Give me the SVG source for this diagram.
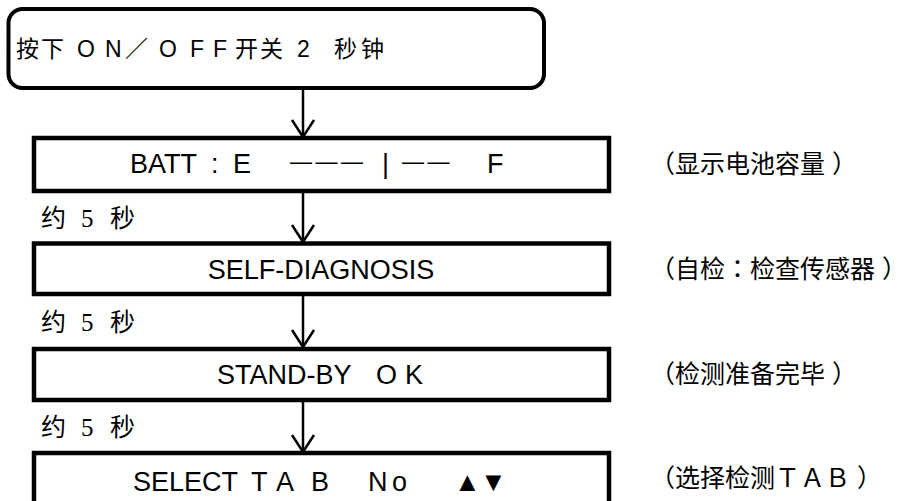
<svg xmlns="http://www.w3.org/2000/svg" width="908" height="501" viewBox="0 0 908 501">
  <style>
    .box { fill: #ffffff; stroke: #000000; stroke-width: 4.5; }
    .start { fill: #ffffff; stroke: #000000; stroke-width: 4; }
    .conn { fill: none; stroke: #000000; stroke-width: 2.5; }
    .lcd { font-family: "Liberation Sans", "Noto Sans CJK SC", sans-serif; font-size: 27px; fill: #000000; }
    .head { font-family: "Liberation Sans", "Noto Sans CJK SC", sans-serif; font-size: 23px; fill: #000000; }
    .note { font-family: "Liberation Serif", "Noto Sans CJK SC", serif; font-size: 25px; fill: #000000; }
    .dash { font-family: "Liberation Sans", sans-serif; font-size: 22px; }
    .jp { font-family: "Noto Sans CJK JP", sans-serif; }
  </style>
  <defs>
    <marker id="chev" markerUnits="userSpaceOnUse" markerWidth="40" markerHeight="40" refX="0" refY="0" orient="auto" overflow="visible" viewBox="-20 -20 40 40">
      <path d="M-17,-11 L0,0 L-17,11" fill="none" stroke="#000000" stroke-width="2.5" stroke-linejoin="miter"/>
    </marker>
  </defs>
  <rect x="0" y="0" width="908" height="501" fill="#ffffff"/>

  <g id="connectors">
    <line class="conn" x1="303" y1="88" x2="303" y2="137" marker-end="url(#chev)"/>
    <line class="conn" x1="303" y1="191" x2="303" y2="242" marker-end="url(#chev)"/>
    <line class="conn" x1="303" y1="294" x2="303" y2="347" marker-end="url(#chev)"/>
    <line class="conn" x1="303" y1="400" x2="303" y2="452" marker-end="url(#chev)"/>
  </g>

  <g id="node-start">
    <rect class="start" x="8.5" y="9" width="535.5" height="79" rx="14" ry="14"/>
    <text class="head" y="57"><tspan x="16 41 64 77 105 125 159 190 213 235 260 282 297 315 334 361">按下 ON／OFF开关 2 秒钟</tspan></text>
  </g>

  <g id="node-batt">
    <rect class="box" x="34" y="138" width="575" height="53"/>
    <text class="lcd" y="173"><tspan x="130">BATT </tspan><tspan x="211">: </tspan><tspan x="233">E </tspan><tspan class="dash" x="290 315.5 341" dy="-4">———</tspan><tspan x="382" dy="4">| </tspan><tspan class="dash" x="402 427.5" dy="-4">—— </tspan><tspan x="487" dy="4">F</tspan></text>
  </g>

  <g id="node-self">
    <rect class="box" x="34" y="243.5" width="575" height="50.5"/>
    <text class="lcd" x="321" y="279" text-anchor="middle">SELF-DIAGNOSIS</text>
  </g>

  <g id="node-standby">
    <rect class="box" x="34" y="349" width="575" height="51"/>
    <text class="lcd" y="384"><tspan x="217">STAND-BY </tspan><tspan x="376 405">OK</tspan></text>
  </g>

  <g id="node-select">
    <rect class="box" x="34" y="453" width="575" height="56"/>
    <text class="lcd" y="491"><tspan x="133">SELECT </tspan><tspan x="251 276 311">TAB </tspan><tspan x="368 392">No </tspan><tspan x="454 480">▲▼</tspan></text>
  </g>

  <g id="labels-time">
    <text class="note" x="41 66 81 94 110" y="227">约 5 秒</text>
    <text class="note" x="41 66 81 94 110" y="331">约 5 秒</text>
    <text class="note" x="41 66 81 94 110" y="436">约 5 秒</text>
  </g>

  <g id="labels-right">
    <text class="note" x="650" y="173">（显示电池容量<tspan dx="7">）</tspan></text>
    <text class="note" x="650" y="278">（自检<tspan class="jp">：</tspan>检查传感器<tspan dx="7">）</tspan></text>
    <text class="note" x="650" y="383">（检测准备完毕<tspan dx="7">）</tspan></text>
    <text class="note" x="650" y="487">（选择检测ＴＡＢ<tspan dx="7">）</tspan></text>
  </g>
</svg>
